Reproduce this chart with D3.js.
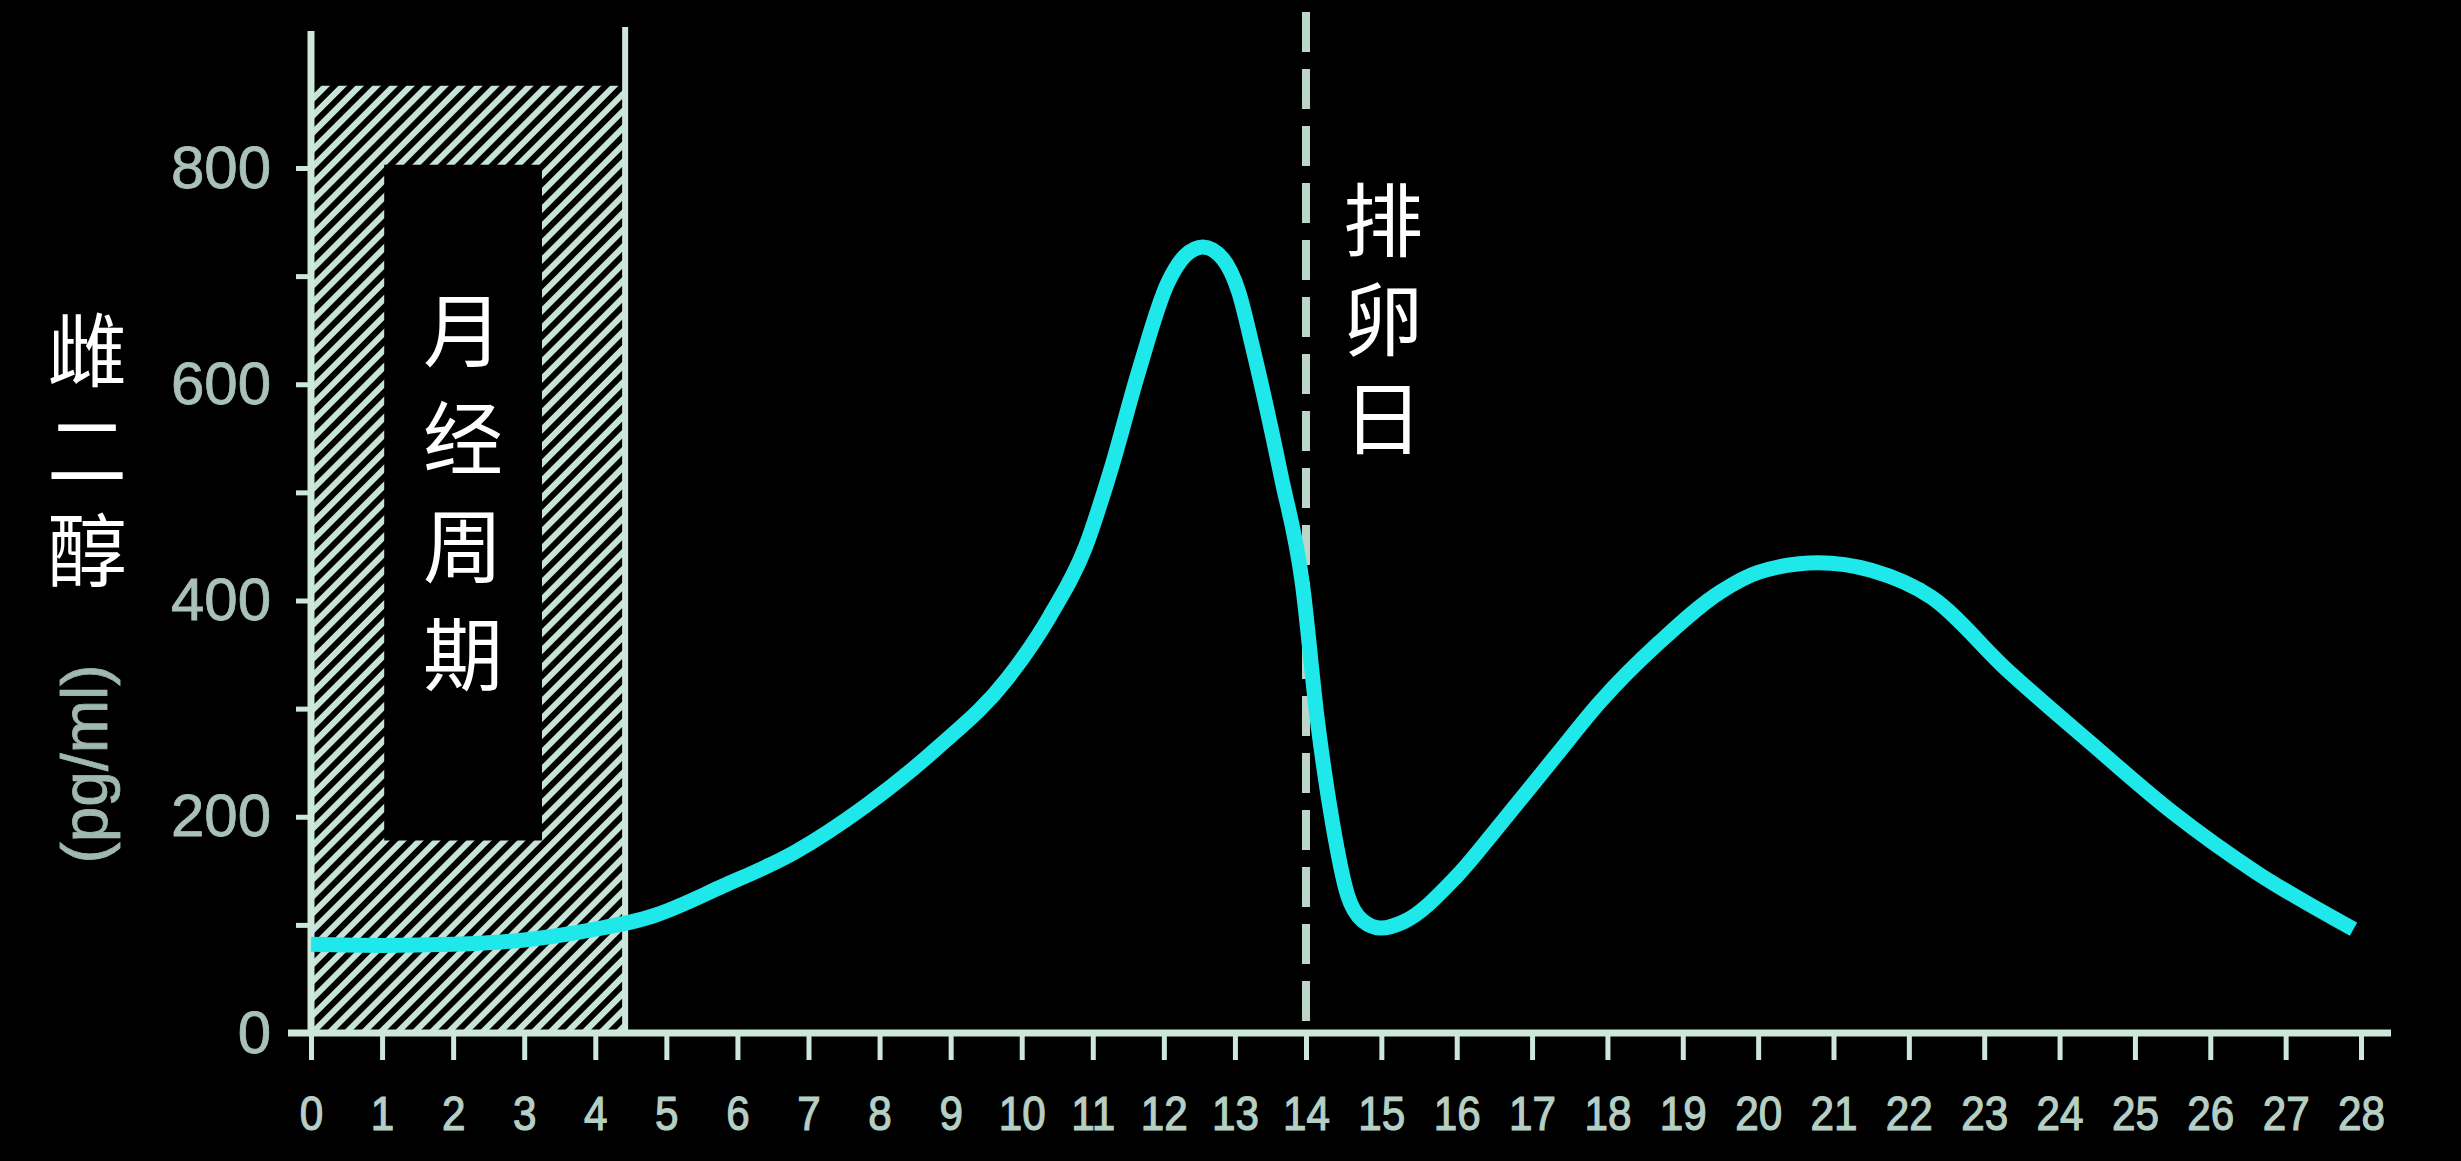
<!DOCTYPE html>
<html>
<head>
<meta charset="utf-8">
<script src="https://cdn.jsdelivr.net/npm/d3@7"></script>
<style>
  html, body { margin: 0; padding: 0; background: #000; }
  svg { display: block; }
</style>
</head>
<body>
<svg id="chart" width="2461" height="1161"></svg>
<script>
// ---------- data ----------
const days = [0, 1, 2, 3, 4, 4.8, 5.8, 6.8, 7.8, 8.8, 9.8, 10.4, 10.9, 11.25, 11.65, 12.05, 12.3, 12.55, 12.83, 13.05, 13.25, 13.65, 13.95, 14.15, 14.35, 14.55, 14.75, 15.0, 15.3, 16.0, 16.6, 17.3, 17.9, 18.7, 19.5, 20.0, 20.8, 21.5, 22.3, 23.3, 24.4, 25.5, 26.6, 27.9];
const estradiol = [82, 81, 82, 86, 96, 108, 136, 167, 210, 263, 328, 386, 450, 520, 613, 693, 719, 727, 716, 686, 634, 515, 415, 290, 195, 128, 104, 97, 103, 145, 195, 255, 306, 362, 408, 426, 435, 428, 403, 336, 269, 204, 149, 96];
const xTicks = d3.range(0, 29);
const yTicks = [0, 100, 200, 300, 400, 500, 600, 700, 800];
const yLabelTicks = [0, 200, 400, 600, 800];
const ovulationDay = 14;
const mensesDays = [0, 4.42];      // hatched band (days)
const mensesTop = 876;             // hatched band top (pg/ml)
const windowDays = [1.03, 3.25];   // inner clear window (days)
const windowValues = [178, 803];   // inner clear window (pg/ml)
const yTitle = "雌二醇";
const yUnit = "(pg/ml)";
const mensesLabel = "月经周期";
const ovulationLabel = "排卵日";

// ---------- scales ----------
const x = d3.scaleLinear().domain([0, 14, 28]).range([311, 1306, 2361]);
const y = d3.scaleLinear().domain([0, 800]).range([1033, 168]);

const svg = d3.select("#chart");
const axisColor = "#cde8da";
const labelColor = "#b6cfc4";

// hatch pattern
const defs = svg.append("defs");
defs.append("pattern")
  .attr("id", "hatch")
  .attr("patternUnits", "userSpaceOnUse")
  .attr("width", 12).attr("height", 12)
  .attr("patternTransform", "rotate(45)")
  .append("rect")
  .attr("x", 0).attr("y", 0).attr("width", 6).attr("height", 12)
  .attr("fill", "#c6e3d6");

// hatched menses band with inner window
const bx0 = x(mensesDays[0]), bx1 = x(mensesDays[1]);
const by0 = y(mensesTop), by1 = y(0);
const wx0 = x(windowDays[0]), wx1 = x(windowDays[1]);
const wy0 = y(windowValues[1]), wy1 = y(windowValues[0]);
svg.append("path")
  .attr("d", `M${bx0},${by0}H${bx1}V${by1}H${bx0}Z M${wx0},${wy0}H${wx1}V${wy1}H${wx0}Z`)
  .attr("fill", "url(#hatch)")
  .attr("fill-rule", "evenodd");

// right border of menses band
svg.append("line")
  .attr("x1", bx1).attr("x2", bx1)
  .attr("y1", 27).attr("y2", y(0))
  .attr("stroke", axisColor).attr("stroke-width", 6);

// ovulation dashed line
svg.append("line")
  .attr("x1", x(ovulationDay)).attr("x2", x(ovulationDay))
  .attr("y1", 12).attr("y2", y(0))
  .attr("stroke", "#bcd5c9").attr("stroke-width", 8)
  .attr("stroke-dasharray", "40 17");

// x axis
const xAxis = d3.axisBottom(x).tickValues(xTicks).tickSize(27).tickSizeOuter(0).tickFormat(d3.format("d"));
const gx = svg.append("g").attr("transform", `translate(0,${y(0)})`).call(xAxis);
gx.select(".domain").remove();
gx.selectAll(".tick line").attr("stroke", axisColor).attr("stroke-width", 5);
gx.selectAll(".tick text")
  .attr("y", 80).attr("dy", "0.35em")
  .attr("transform", "scale(0.88,1)")
  .attr("fill", labelColor)
  .attr("stroke", labelColor).attr("stroke-width", 1.2)
  .style("font-family", "'Liberation Sans', Arial, sans-serif")
  .style("font-size", "48px");
svg.append("line")
  .attr("x1", x(0) - 23).attr("x2", x(28) + 30)
  .attr("y1", y(0)).attr("y2", y(0))
  .attr("stroke", axisColor).attr("stroke-width", 7);

// y axis
const yAxis = d3.axisLeft(y).tickValues(yTicks).tickSize(15).tickSizeOuter(0).tickPadding(25)
  .tickFormat(d => yLabelTicks.includes(d) ? d : "");
const gy = svg.append("g").attr("transform", `translate(${x(0)},0)`).call(yAxis);
gy.select(".domain").remove();
gy.selectAll(".tick line").attr("stroke", axisColor).attr("stroke-width", 5);
gy.selectAll(".tick text")
  .attr("fill", "#a9c1b7")
  .attr("stroke", "#a9c1b7").attr("stroke-width", 0.8)
  .style("font-family", "'Liberation Sans', Arial, sans-serif")
  .style("font-size", "60px");
svg.append("line")
  .attr("x1", x(0)).attr("x2", x(0))
  .attr("y1", 31).attr("y2", y(0))
  .attr("stroke", axisColor).attr("stroke-width", 7);

// estradiol curve
const line = d3.line()
  .x((d, i) => x(days[i]))
  .y(d => y(d))
  .curve(d3.curveMonotoneX);
svg.append("path")
  .datum(estradiol)
  .attr("d", line)
  .attr("fill", "none")
  .attr("stroke", "#1fe8ea")
  .attr("stroke-width", 15)
  .attr("stroke-linejoin", "round");

// vertical CJK labels (single text element, vertical writing mode)
const cjk = "'Noto Sans CJK SC', 'Noto Sans CJK JP', sans-serif";
function vText(str, cx, cy0, pitch, size) {
  svg.append("text")
    .attr("x", cx)
    .attr("y", cy0 - size / 2)
    .attr("text-anchor", "start")
    .attr("fill", "#ffffff")
    .style("writing-mode", "vertical-rl")
    .style("text-orientation", "upright")
    .style("letter-spacing", (pitch - size) + "px")
    .style("font-family", cjk)
    .style("font-size", size + "px")
    .text(str);
}
vText(yTitle, 87, 350, 100, 80);
vText(mensesLabel, x(2.14), 330, 108, 80);
vText(ovulationLabel, 1383, 220, 99, 80);

// unit label
svg.append("text")
  .attr("transform", `translate(85,764) rotate(-90)`)
  .attr("text-anchor", "middle")
  .attr("dominant-baseline", "central")
  .attr("fill", "#9fb9ae")
  .attr("stroke", "#9fb9ae").attr("stroke-width", 0.8)
  .style("font-family", "'Liberation Sans', Arial, sans-serif")
  .style("font-size", "64px")
  .text(yUnit);
</script>
</body>
</html>
